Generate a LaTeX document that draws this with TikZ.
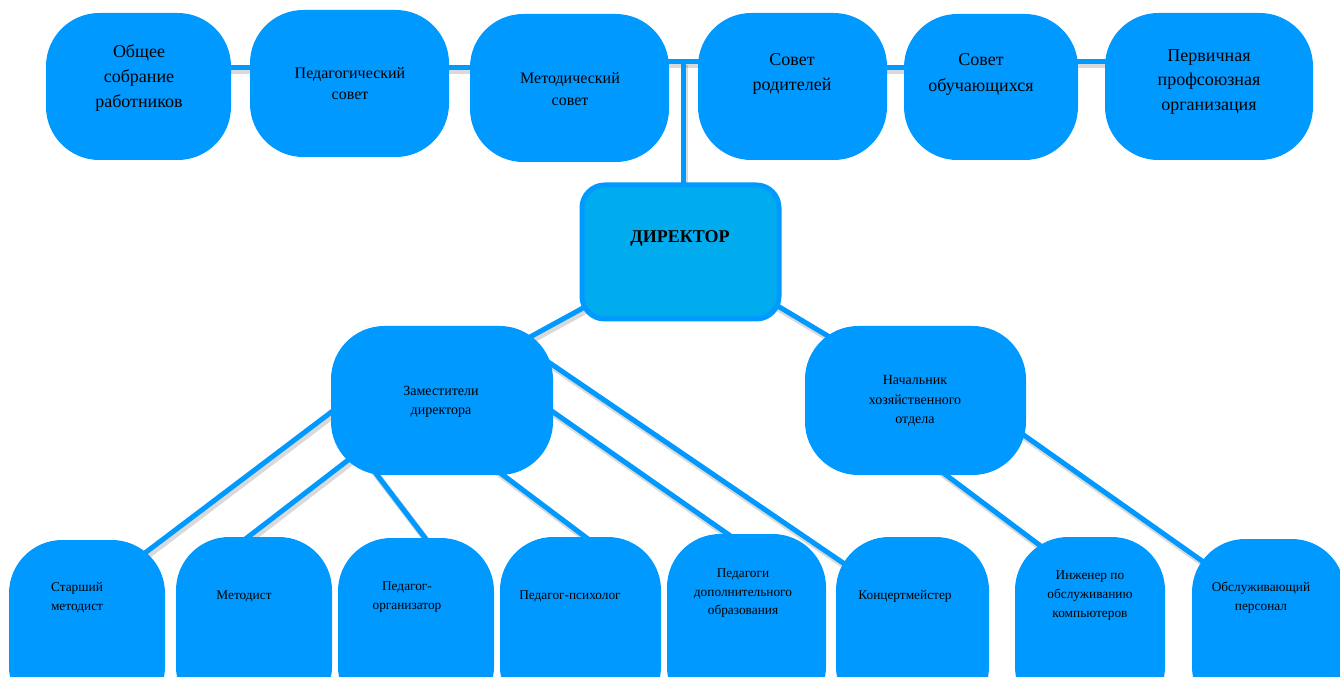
\documentclass[tikz,border=0pt]{standalone}
\usepackage{fontspec}
\setmainfont{Liberation Serif}
\usetikzlibrary{calc}
\pgfdeclarelayer{bg}
\pgfsetlayers{bg,main}
\definecolor{cbox}{RGB}{0,153,255}
\definecolor{cdir}{RGB}{0,172,238}
\newcommand\mkbox[6][]{\node[box,#1,minimum width={(#4-#2)*0.75pt},minimum height={(#5-#3)*0.75pt}] (#6) at ({(#2+#4)/2},{(#3+#5)/2}) {};}
\begin{document}
\begin{tikzpicture}[x=0.75pt,y=-0.75pt,
  box/.style={fill=cbox, rounded corners=40pt, inner sep=0pt, outer sep=0pt},
  dirbox/.style={fill=cdir, draw=cbox, line width=3.75pt, rounded corners=17pt},
  lbl/.style={align=center, inner sep=0pt, text=black},
  conn/.style={draw=cbox, line width=3.75pt},
  shad/.style={draw=black, opacity=0.15, line width=5pt, transform canvas={xshift=1.5pt,yshift=-2.2pt}}
]
\useasboundingbox (0,0) rectangle (1340,677);
\clip (0,0) rectangle (1340,677);

% top row
\mkbox{46}{13}{231}{160}{t1}
\mkbox{250}{10}{449}{157}{t2}
\mkbox{470}{14}{669}{162}{t3}
\mkbox{698}{13}{887}{160}{t4}
\mkbox{904}{14}{1078}{160}{t5}
\mkbox{1105}{13}{1313}{160}{t6}
% director
\mkbox[dirbox]{582}{185}{779}{319}{dir}
% middle
\mkbox{331}{326}{553}{475}{zam}
\mkbox{805}{326}{1026}{475}{nach}
% bottom row
\mkbox{9}{540}{165}{720}{b1}
\mkbox{176}{537}{332}{720}{b2}
\mkbox{338}{538}{494}{720}{b3}
\mkbox{500}{537}{661}{720}{b4}
\mkbox{667}{534}{826}{720}{b5}
\mkbox{836}{537}{989}{720}{b6}
\mkbox{1015}{537}{1165}{720}{b7}
\mkbox{1192}{539}{1345}{720}{b8}

% labels
\node[lbl,font=\fontsize{13.5}{18.75}\selectfont] (l1) at (139,78) {Общее\\собрание\\работников};
\node[lbl,font=\fontsize{12}{15.75}\selectfont] (l2) at (350,84) {Педагогический\\совет};
\node[lbl,font=\fontsize{12}{16.5}\selectfont] (l3) at (570,89) {Методический\\совет};
\node[lbl,font=\fontsize{13.5}{18.75}\selectfont] (l4) at (792,73.5) {Совет\\родителей};
\node[lbl,font=\fontsize{13.5}{19.5}\selectfont] (l5) at (981,74) {Совет\\обучающихся};
\node[lbl,font=\fontsize{13.5}{18.4}\selectfont] (l6) at (1209,82) {Первичная\\профсоюзная\\организация};
\node[lbl,font=\fontsize{13.5}{16}\selectfont\bfseries] (ld) at (680,238) {ДИРЕКТОР};
\node[lbl,font=\fontsize{10.5}{14.25}\selectfont] (lz) at (441,401.5) {Заместители\\директора};
\node[lbl,font=\fontsize{10.5}{14.6}\selectfont] (ln) at (915,401) {Начальник\\хозяйственного\\отдела};
\node[lbl,font=\fontsize{10}{14.25}\selectfont] (lb1) at (77,597.5) {Старший\\методист};
\node[lbl,font=\fontsize{10}{14.25}\selectfont] (lb2) at (244,596) {Методист};
\node[lbl,font=\fontsize{10}{14.25}\selectfont] (lb3) at (407,597.5) {Педагог-\\организатор};
\node[lbl,font=\fontsize{10}{14.25}\selectfont] (lb4) at (570,596) {Педагог-психолог};
\node[lbl,font=\fontsize{10}{13.9}\selectfont] (lb5) at (743,593.5) {Педагоги\\дополнительного\\образования};
\node[lbl,font=\fontsize{10}{14.25}\selectfont] (lb6) at (905,596) {Концертмейстер};
\node[lbl,font=\fontsize{10}{14.25}\selectfont] (lb7) at (1090,596) {Инженер по\\обслуживанию\\компьютеров};
\node[lbl,font=\fontsize{10}{14.25}\selectfont] (lb8) at (1261,597.5) {Обслуживающий\\персонал};

\coordinate (yA) at (0,68);
\coordinate (yB) at (0,62);
\coordinate (j) at (683,62);

\def\alllinks{%
  \L{(t1 |- yA)}{(t2 |- yA)}
  \L{(t2 |- yA)}{(t3 |- yA)}
  \L{(t3 |- yB)}{(t4 |- yB)}
  \L{(t4 |- yA)}{(t5 |- yA)}
  \L{(t5 |- yB)}{(t6 |- yB)}
  \L{(j)}{($(dir.north -| j)+(0,6)$)}
  \L{($(dir)+(-88.7,51.2)$)}{($(zam)+(79.2,-58.7)$)}
  \L{($(dir)+(88.9,49)$)}{($(nach)+(-80.9,-60.5)$)}
  \L{($(zam)+(-104,6.5)$)}{($(b1)+(50,-71)$)}
  \L{($(zam)+(-86,53.5)$)}{($(b2)+(-19,-81.5)$)}
  \L{($(zam)+(-71,66.5)$)}{($(b3)+(19,-78)$)}
  \L{($(zam)+(53,68.5)$)}{($(b4)+(19.5,-80.5)$)}
  \L{($(zam)+(104,6.5)$)}{($(b5)+(-4.5,-83)$)}
  \L{($(zam)+(99,-43.5)$)}{($(b6)+(-60.5,-59.5)$)}
  \L{($(nach)+(22.5,68.5)$)}{($(b7)+(-40,-75.5)$)}
  \L{($(nach)+(102.5,30.5)$)}{($(b8)+(-56.5,-61.5)$)}
}
\begin{pgfonlayer}{bg}
  \fill[white] (0,0) rectangle (1340,677);
  \def\L#1#2{\draw[shad] #1 -- #2;}
  \alllinks
  \def\L#1#2{\draw[conn] #1 -- #2;}
  \alllinks
\end{pgfonlayer}
\end{tikzpicture}
\end{document}
